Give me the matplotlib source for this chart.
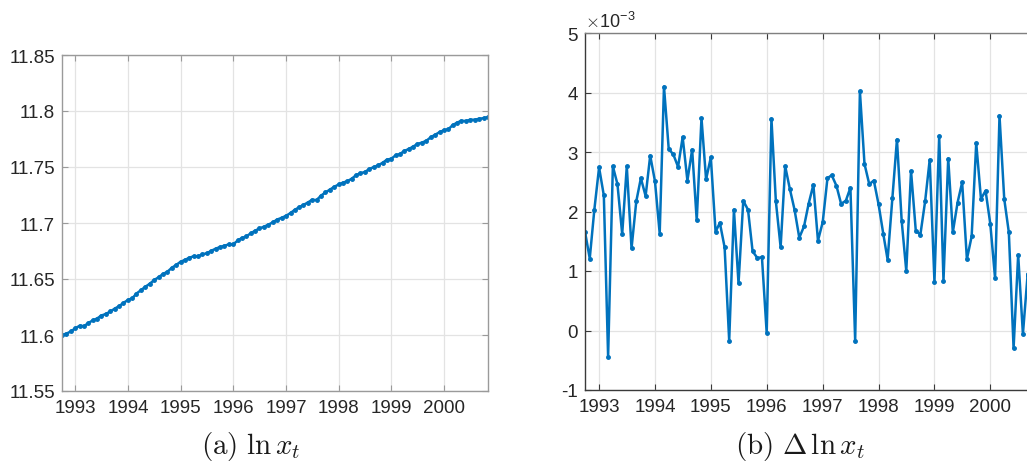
#!/usr/bin/env python3
import numpy as np
import pandas as pd
import matplotlib
matplotlib.use('Agg')
import matplotlib.pyplot as plt
import matplotlib.dates as mdates

# monthly data, Oct 1992 .. Nov 2000
startMonth = '1992-10-01'
nMonths = 98

# level series ln x_t (panel a)
lnX = [
    11.6000, 11.6012, 11.6032, 11.6060, 11.6083, 11.6078, 11.6106, 11.6130, 11.6147, 11.6174,
    11.6188, 11.6210, 11.6235, 11.6258, 11.6287, 11.6312, 11.6329, 11.6370, 11.6400, 11.6430,
    11.6457, 11.6490, 11.6515, 11.6545, 11.6564, 11.6600, 11.6625, 11.6654, 11.6671, 11.6689,
    11.6703, 11.6701, 11.6721, 11.6729, 11.6751, 11.6771, 11.6785, 11.6797, 11.6809, 11.6809,
    11.6844, 11.6866, 11.6880, 11.6908, 11.6931, 11.6952, 11.6967, 11.6985, 11.7006, 11.7031,
    11.7046, 11.7064, 11.7089, 11.7116, 11.7140, 11.7161, 11.7183, 11.7207, 11.7205, 11.7245,
    11.7273, 11.7298, 11.7323, 11.7344, 11.7361, 11.7373, 11.7395, 11.7427, 11.7445, 11.7455,
    11.7482, 11.7499, 11.7515, 11.7537, 11.7565, 11.7574, 11.7606, 11.7615, 11.7644, 11.7660,
    11.7682, 11.7706, 11.7718, 11.7734, 11.7766, 11.7788, 11.7811, 11.7829, 11.7838, 11.7874,
    11.7896, 11.7913, 11.7910, 11.7922, 11.7922, 11.7931, 11.7936, 11.7946,
]

# first difference, in units of 1e-3 (panel b)
dLnX = [
    1.66, 1.21, 2.03, 2.74, 2.27, -0.44, 2.76, 2.46, 1.62, 2.76,
    1.38, 2.17, 2.56, 2.26, 2.94, 2.51, 1.63, 4.10, 3.05, 2.96,
    2.75, 3.25, 2.52, 3.04, 1.85, 3.57, 2.54, 2.91, 1.66, 1.81,
    1.40, -0.17, 2.03, 0.79, 2.18, 2.03, 1.33, 1.22, 1.23, -0.04,
    3.56, 2.17, 1.40, 2.76, 2.37, 2.03, 1.56, 1.75, 2.13, 2.45,
    1.51, 1.82, 2.56, 2.61, 2.43, 2.13, 2.18, 2.40, -0.17, 4.02,
    2.80, 2.46, 2.52, 2.12, 1.62, 1.19, 2.22, 3.21, 1.84, 1.00,
    2.68, 1.68, 1.61, 2.17, 2.87, 0.82, 3.27, 0.84, 2.89, 1.65,
    2.15, 2.49, 1.20, 1.58, 3.15, 2.21, 2.35, 1.79, 0.88, 3.61,
    2.21, 1.65, -0.30, 1.27, -0.06, 0.95, 0.45, 1.05,
]

yTicksA = [11.55, 11.6, 11.65, 11.7, 11.75, 11.8, 11.85]
yTickLabelsA = ['11.55', '11.6', '11.65', '11.7', '11.75', '11.8', '11.85']
yTicksB = [-1, 0, 1, 2, 3, 4, 5]
years = list(range(1993, 2001))


def styleAxes(ax, spineColor, topColor):
    ax.grid(True, color='#e3e3e3', linewidth=0.9)
    ax.set_axisbelow(True)
    for side in ['left', 'bottom']:
        ax.spines[side].set_color(spineColor)
    for side in ['top', 'right']:
        ax.spines[side].set_color(topColor)
    for sp in ax.spines.values():
        sp.set_linewidth(1.0)
    ax.tick_params(direction='in', length=4, width=0.8, colors=spineColor,
                   labelcolor='#262626', labelsize=13.5, top=True, right=True)
    ax.xaxis.set_major_locator(mdates.YearLocator())
    ax.xaxis.set_major_formatter(mdates.DateFormatter('%Y'))
    ax.tick_params(axis='x', pad=6)
    ax.tick_params(axis='y', pad=5)


def doit():
    plt.rcParams['font.family'] = ['Liberation Sans', 'DejaVu Sans']
    plt.rcParams['mathtext.fontset'] = 'cm'
    plt.rcParams['axes.unicode_minus'] = False

    dates = pd.date_range(startMonth, periods=nMonths, freq='MS')
    lineColor = '#0072BD'

    fig = plt.figure(figsize=(10.27, 4.64), dpi=100)

    # (a) level
    axA = fig.add_axes([62/1027, 72/464, 426/1027, 336/464])
    axA.plot(dates, lnX, color=lineColor, linewidth=1.8, marker='.', markersize=5)
    axA.set_xlim(dates[0], dates[-1])
    axA.set_ylim(11.55, 11.85)
    axA.set_yticks(yTicksA)
    axA.set_yticklabels(yTickLabelsA)
    styleAxes(axA, '#9a9a9a', '#9a9a9a')
    axA.set_xticks([pd.Timestamp(f'{y}-01-01') for y in years])

    # (b) first difference, panel runs past the right edge as in the source
    axB = fig.add_axes([585/1027, 73/464, 452/1027, 357/464])
    axB.plot(dates, dLnX, color=lineColor, linewidth=1.8, marker='.', markersize=5)
    axB.set_xlim(dates[0], dates[-1])
    axB.set_ylim(-1, 5)
    axB.set_yticks(yTicksB)
    styleAxes(axB, '#3a3a3a', '#808080')
    axB.set_xticks([pd.Timestamp(f'{y}-01-01') for y in years])
    axB.text(0.0, 1.005, r'$\times$10$^{\mathregular{-3}}$', transform=axB.transAxes,
             ha='left', va='bottom', fontsize=13, color='#262626')

    fig.text(251/1027, 1 - 447/464, r'$\mathrm{(a)}\ \ln x_t$', ha='center', va='center',
             fontsize=21, color='#1a1a1a')
    fig.text(800/1027, 1 - 447/464, r'$\mathrm{(b)}\ \Delta\,\ln x_t$', ha='center', va='center',
             fontsize=21, color='#1a1a1a')

    fig.savefig('out.png', dpi=100)
    plt.close(fig)


if __name__ == "__main__":
    doit()
